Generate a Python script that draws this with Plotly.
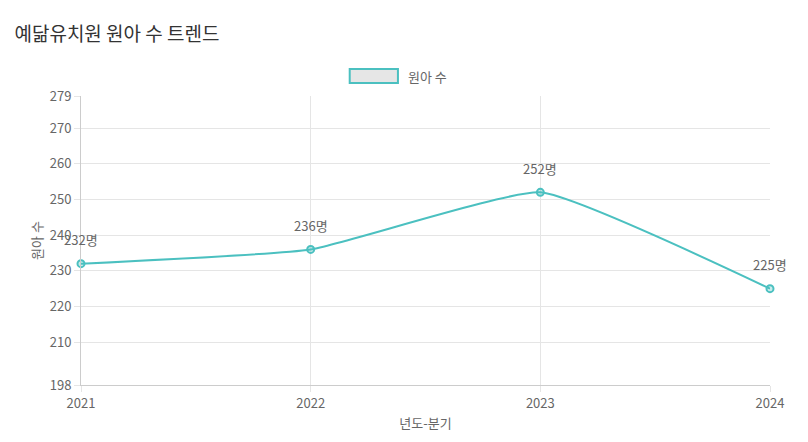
import plotly.graph_objects as go

years = ["2021", "2022", "2023", "2024"]
counts = [232, 236, 252, 225]
labels = [f"{v}명" for v in counts]
yticks = [198, 210, 220, 230, 240, 250, 260, 270, 279]

teal = "rgb(75,192,192)"
fig = go.Figure()
fig.add_trace(go.Scatter(
    x=[0, 1, 2, 3], y=counts, mode="lines+markers",
    line=dict(color=teal, width=2, shape="spline", smoothing=0.4),
    marker=dict(size=7, color="rgba(75,192,192,0.3)", line=dict(color=teal, width=2)),
    cliponaxis=False, showlegend=False))
for i, (v, t) in enumerate(zip(counts, labels)):
    fig.add_annotation(x=i, y=v, text=t, showarrow=False, yshift=24,
                       font=dict(size=13, color="#666"))

fig.update_layout(
    width=808, height=442, plot_bgcolor="white", paper_bgcolor="white",
    margin=dict(l=73, r=46, t=88, b=65, autoexpand=False),
    font=dict(family="Noto Sans CJK KR", color="#666", size=13),
    title=dict(text="예닮유치원 원아 수 트렌드", x=0.008, y=0.955, xanchor="left",
               font=dict(size=19, color="#333")),
    xaxis=dict(range=[0, 3], tickvals=[0, 1, 2, 3], ticktext=years, automargin=False,
               showgrid=True, gridcolor="#e5e5e5", zeroline=False,
               showline=True, linecolor="#ccc", ticks="outside", ticklen=6, tickcolor="#e5e5e5",
               title=dict(text="년도-분기", font=dict(size=13), standoff=8)),
    yaxis=dict(range=[198, 279], tickvals=yticks, showgrid=True, gridcolor="#e5e5e5",
               automargin=False, zeroline=False, showline=True, linecolor="#ccc", ticks="outside",
               ticklen=6, tickcolor="#e5e5e5",
               title=dict(text="원아 수", font=dict(size=13), standoff=4)),
)
fig.add_shape(type="rect", xref="paper", yref="paper", x0=0.390, x1=0.460, y0=1.045, y1=1.093,
              fillcolor="#e6e6e6", line=dict(color=teal, width=2))
fig.add_annotation(text="원아 수", xref="paper", yref="paper", x=0.472, y=1.069,
                   xanchor="left", yanchor="middle", showarrow=False, font=dict(size=13, color="#666"))
fig.write_html("out.html")
